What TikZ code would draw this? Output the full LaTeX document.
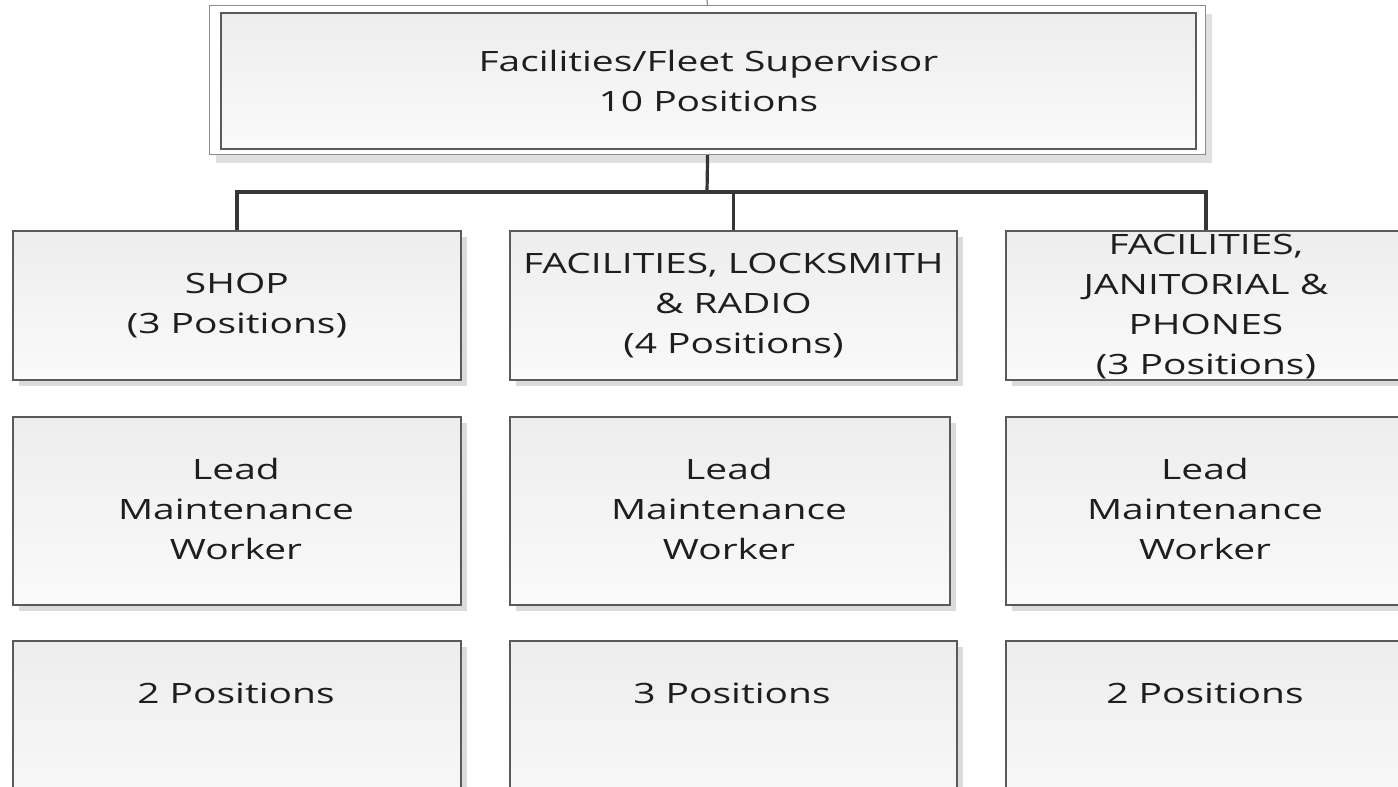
\documentclass[tikz,border=0pt]{standalone}
\usepackage{fontspec}
\setmainfont{Open Sans}[FakeStretch=1.39]
\usetikzlibrary{shadows}
\definecolor{txt}{HTML}{1E1E1E}
\definecolor{edge}{HTML}{5A5A5A}
\definecolor{conncol}{HTML}{363636}
\tikzset{
  orgbox/.style={draw=edge, line width=1.8pt, top color=black!7, bottom color=black!2,
    inner sep=0pt, anchor=north west,
    drop shadow={shadow xshift=6pt, shadow yshift=-6pt, fill=black!14, opacity=1}},
  outerbox/.style={draw=black!45, line width=1.2pt, fill=white, inner sep=0pt, anchor=north west,
    drop shadow={shadow xshift=6pt, shadow yshift=-8pt, fill=black!12, opacity=1}},
  innerbox/.style={draw=edge, line width=1.8pt, top color=black!7, bottom color=black!2,
    inner sep=0pt, anchor=north west},
  lbl/.style={text=txt, align=center, font=\fontsize{28}{40}\selectfont, inner sep=0pt},
  conn/.style={draw=conncol, line width=3.2pt},
}
\begin{document}
\begin{tikzpicture}[x=1pt, y=-1pt]
\useasboundingbox (0,0) rectangle (1398,787);
\clip (0,0) rectangle (1398,787);
% top box
\node[outerbox, minimum width=996pt, minimum height=149pt] (top) at (209,5) {};
\node[innerbox, minimum width=975pt, minimum height=136pt] (topin) at (220,12) {};
\node[lbl] (toplbl) at (topin.center) {Facilities/Fleet Supervisor\\10 Positions};
% row 1
\node[orgbox, minimum width=448pt, minimum height=149pt] (b1) at (12,230) {};
\node[orgbox, minimum width=447pt, minimum height=149pt] (b2) at (509,230) {};
\node[orgbox, minimum width=400pt, minimum height=149pt] (b3) at (1005,230) {};
% row 2
\node[orgbox, minimum width=448pt, minimum height=188pt] (c1) at (12,416) {};
\node[orgbox, minimum width=440pt, minimum height=188pt] (c2) at (509,416) {};
\node[orgbox, minimum width=400pt, minimum height=188pt] (c3) at (1005,416) {};
% row 3
\node[orgbox, minimum width=448pt, minimum height=190pt] (d1) at (12,640) {};
\node[orgbox, minimum width=447pt, minimum height=190pt] (d2) at (509,640) {};
\node[orgbox, minimum width=400pt, minimum height=190pt] (d3) at (1005,640) {};
% labels
\node[lbl] (b1l) at (b1.center) {SHOP\\(3 Positions)};
\node[lbl] (b2l) at (b2.center) {FACILITIES, LOCKSMITH\\\& RADIO\\(4 Positions)};
\node[lbl] (b3l) at ([yshift=-1pt]b3.center) {FACILITIES,\\JANITORIAL \&\\PHONES\\(3 Positions)};
\node[lbl] (c1l) at (236,509) {Lead\\Maintenance\\Worker};
\node[lbl] (c2l) at (729,509) {Lead\\Maintenance\\Worker};
\node[lbl] (c3l) at (1205,509) {Lead\\Maintenance\\Worker};
\node[lbl] (d1l) at (236,693) {2 Positions};
\node[lbl] (d2l) at (732,693) {3 Positions};
\node[lbl] (d3l) at (1205,693) {2 Positions};
% connectors
\coordinate (bus) at (707,192);
\coordinate (above) at (707,0);
\draw[draw=black!45, line width=1.2pt] (above) -- (top.north);
\draw[conn] (top.south) -- (bus);
\draw[conn] (bus) -| (b1.north);
\draw[conn] (bus) -| (b2.north);
\draw[conn] (bus) -| (b3.north);
\end{tikzpicture}
\end{document}
